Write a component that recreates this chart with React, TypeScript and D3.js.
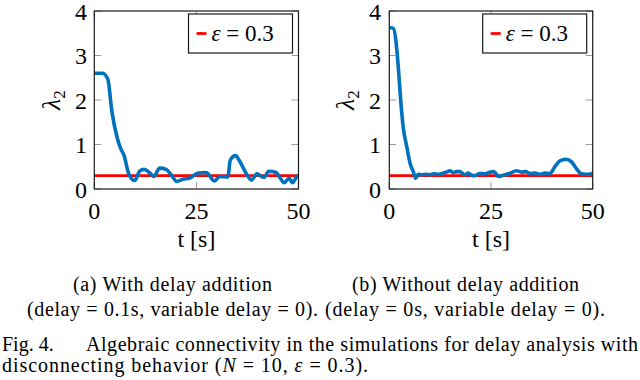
import React from "react";
import * as d3 from "d3";

// lambda_2 over time
const withDelayT = [0, 2, 3.3, 4.3, 5.6, 6.5, 7.3, 8.4, 9.9, 11.1, 12.2, 13.6, 14.6, 16, 17.6, 18.9, 20.2, 21.7, 23.3, 25.4, 27.4, 29.4, 30.7, 32.7, 33.3, 34.6, 35.5, 37.2, 38.5, 39.8, 41, 41.6, 42.7, 44.5, 45.3, 46.5, 47.7, 48.5, 49.7, 50];
const withDelayL = [2.6, 2.6, 2.47, 1.75, 1.15, 0.9, 0.75, 0.35, 0.19, 0.4, 0.44, 0.36, 0.28, 0.47, 0.44, 0.31, 0.17, 0.22, 0.24, 0.36, 0.37, 0.18, 0.28, 0.27, 0.65, 0.75, 0.64, 0.35, 0.2, 0.34, 0.28, 0.26, 0.4, 0.37, 0.28, 0.14, 0.24, 0.14, 0.29, 0.3];

const noDelayT = [0, 1, 1.6, 2.2, 2.8, 3.4, 4.3, 5.1, 5.9, 6.5, 7.1, 8, 9, 10, 11, 12, 13, 14, 14.9, 15.7, 16.5, 17.4, 18, 18.6, 19.4, 20.2, 21, 22.3, 23.5, 24.5, 25.6, 26.2, 26.8, 28, 29.5, 31.3, 32.5, 33.5, 34.6, 35.8, 37, 38.3, 39.5, 40.7, 41.9, 43.4, 44.8, 46, 47.2, 48.4, 50];
const noDelayL = [3.63, 3.61, 3.35, 2.75, 2.0, 1.4, 0.95, 0.58, 0.39, 0.24, 0.33, 0.32, 0.33, 0.32, 0.34, 0.33, 0.35, 0.38, 0.41, 0.37, 0.39, 0.39, 0.35, 0.32, 0.36, 0.31, 0.3, 0.35, 0.34, 0.37, 0.39, 0.35, 0.28, 0.31, 0.35, 0.41, 0.38, 0.39, 0.35, 0.36, 0.33, 0.36, 0.35, 0.5, 0.63, 0.67, 0.61, 0.46, 0.34, 0.33, 0.35];

const epsilon = 0.3;
const xTicks = [0, 25, 50];
const yTicks = [0, 1, 2, 3, 4];

const captionA = ["(a) With delay addition", "(delay = 0.1s, variable delay = 0)."];
const captionB = ["(b) Without delay addition", "(delay = 0s, variable delay = 0)."];

const blue = "#0072bd";

function Panel({ left, right, ts, ls, labelX, yLabelX }) {
  const top = 11, bottom = 189;
  const x = d3.scaleLinear().domain([0, 50]).range([left, right]);
  const y = d3.scaleLinear().domain([0, 4]).range([bottom, top]);
  const pts = ts.map((t, i) => [t, ls[i]]);
  const line = d3.line().curve(d3.curveMonotoneX).x(d => x(d[0])).y(d => y(d[1]));
  const tl = 7;
  const legR = right - 6;
  const legL = legR - 104;
  return (
    <g>
      <line x1={x(0)} x2={x(50)} y1={y(epsilon)} y2={y(epsilon)} stroke="#ff0000" strokeWidth={2.8} />
      <path d={line(pts)} fill="none" stroke={blue} strokeWidth={3.6} strokeLinejoin="round" />
      {yTicks.map(v => (
        <g key={"y" + v}>
          <line x1={left} x2={left + tl} y1={y(v)} y2={y(v)} stroke="#999" strokeWidth={1} />
          <line x1={right - tl} x2={right} y1={y(v)} y2={y(v)} stroke="#999" strokeWidth={1} />
          <text x={labelX} y={y(v) + 8.5} textAnchor="end" style={{ fontFamily: "Liberation Serif", fontSize: "24px" }}>{v}</text>
        </g>
      ))}
      {xTicks.map(v => (
        <g key={"x" + v}>
          <line x1={x(v)} x2={x(v)} y1={bottom} y2={bottom - tl} stroke="#999" strokeWidth={1} />
          <line x1={x(v)} x2={x(v)} y1={top} y2={top + tl} stroke="#999" strokeWidth={1} />
          <text x={x(v)} y={219} textAnchor="middle" style={{ fontFamily: "Liberation Serif", fontSize: "24px" }}>{v}</text>
        </g>
      ))}
      <rect x={left} y={top} width={right - left} height={bottom - top} fill="none" stroke="#1a1a1a" strokeWidth={1.2} />
      <rect x={legL} y={14} width={104} height={39} fill="white" stroke="#1a1a1a" strokeWidth={1.2} />
      <line x1={legL + 8} x2={legL + 18} y1={33.5} y2={33.5} stroke="#ff0000" strokeWidth={2.8} />
      <text x={legL + 23} y={41} style={{ fontFamily: "Liberation Serif", fontSize: "23px" }}>
        <tspan fontStyle="italic">ε</tspan> = 0.3
      </text>
      <text x={(left + right) / 2} y={247} textAnchor="middle" style={{ fontFamily: "Liberation Serif", fontSize: "24px" }}>t [s]</text>
      <text transform={`translate(${yLabelX},${(top + bottom) / 2}) rotate(-90)`} textAnchor="middle" style={{ fontFamily: "Liberation Serif", fontSize: "26px" }}>
        <tspan fontStyle="italic">λ</tspan>
        <tspan fontSize={17} dy={5}>2</tspan>
      </text>
    </g>
  );
}

export default function App() {
  const cap = { fontFamily: "Liberation Serif", fontSize: "20px" };
  return (
    <div style={{ position: "absolute", left: 0, top: 0, width: 640, height: 380, background: "white" }}>
      <svg width={640} height={380}>
        <Panel left={94.3} right={298.5} ts={withDelayT} ls={withDelayL} labelX={87} yLabelX={60} />
        <Panel left={389.3} right={592.7} ts={noDelayT} ls={noDelayL} labelX={381} yLabelX={354} />
        <text x={73} y={291} style={cap} textLength={199} lengthAdjust="spacing">{captionA[0]}</text>
        <text x={27} y={316} style={cap} textLength={291} lengthAdjust="spacing">{captionA[1]}</text>
        <text x={352} y={291} style={cap} textLength={227} lengthAdjust="spacing">{captionB[0]}</text>
        <text x={325} y={316} style={cap} textLength={280} lengthAdjust="spacing">{captionB[1]}</text>
        <text x={2} y={351} style={cap}>Fig. 4.</text>
        <text x={86} y={351} style={cap} textLength={552} lengthAdjust="spacing">Algebraic connectivity in the simulations for delay analysis with</text>
        <text x={2} y={372} style={cap} textLength={366} lengthAdjust="spacing">
          disconnecting behavior (<tspan fontStyle="italic">N</tspan> = 10, <tspan fontStyle="italic">ε</tspan> = 0.3).
        </text>
      </svg>
    </div>
  );
}
